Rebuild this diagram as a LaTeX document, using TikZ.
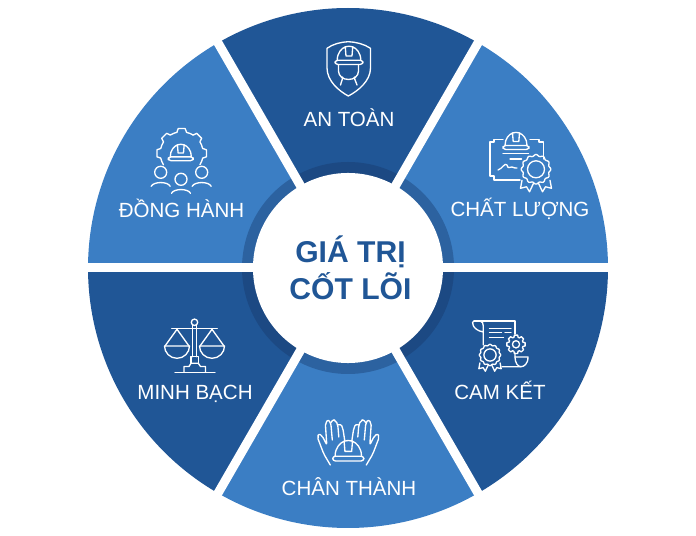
\documentclass[tikz,border=0pt]{standalone}
\usepackage{fontspec}
\setmainfont{Liberation Sans}
\usetikzlibrary{calc}
\definecolor{wedgedark}{RGB}{32,86,150}
\definecolor{wedgelight}{RGB}{59,126,196}
\definecolor{ringdark}{RGB}{28,73,131}
\definecolor{ringlight}{RGB}{44,98,160}
\tikzset{
	icon/.style={draw=white,line width=0.95pt,line join=round,line cap=round},
	valuetag/.style={text=white,font=\fontsize{14.6}{16}\selectfont,anchor=base,inner sep=0pt},
	coretext/.style={text=wedgedark,font=\fontsize{21.4}{24}\selectfont\bfseries,anchor=base,inner sep=0pt},
	helmet/.pic={
		\draw[icon] (-11,-4) .. controls (-11,-11) and (-7,-15) .. (-3.5,-16.5) -- (-2.8,-8) -- (2.8,-8) -- (3.5,-16.5) .. controls (7,-15) and (11,-11) .. (11,-4);
		\draw[icon] (-3.5,-16.5) .. controls (-1,-17.3) and (1,-17.3) .. (3.5,-16.5);
		\draw[icon,rounded corners=2] (-13,-4) rectangle (13,0);
	},
	medal/.pic={
		\draw[icon] plot[domain=0:360,samples=121] (\x:{14+0.8*cos(12*\x)}) -- cycle;
		\draw[icon] (0,0) circle (8.5);
		\draw[icon] (-14,11) -- (-15.5,19) -- (-9.5,17.5) -- (-6.5,22.5) -- (-2.5,14);
		\draw[icon] (2.5,14) -- (6.5,22.5) -- (9.5,17.5) -- (15.5,19) -- (14,11);
	}
}
\begin{document}
\begin{tikzpicture}[x=0.025cm,y=-0.025cm]
	\useasboundingbox (0,0) rectangle (696,536);
	\coordinate (cen) at (348,268);
	% wedges with their ring, clockwise from east
	\foreach \a/\wedgecol/\ringcol in {0/wedgedark/ringdark,60/wedgelight/ringlight,120/wedgedark/ringdark,180/wedgelight/ringlight,240/wedgedark/ringdark,300/wedgelight/ringlight}{
		\fill[\wedgecol] (cen) -- ($(cen)+(\a:260)$) arc[start angle=\a,delta angle=60,radius=260] -- cycle;
		\fill[\ringcol] (cen) -- ($(cen)+(\a:106)$) arc[start angle=\a,delta angle=60,radius=106] -- cycle;
	}
	\foreach \a in {0,60,120}
	\draw[white,line width=6.4pt] ($(cen)+(\a:272)$) -- ($(cen)+(\a+180:272)$);
	\node[circle,fill=white,inner sep=0pt,minimum size=4.75cm] (core) at (cen) {};
	\node[coretext] (giatri) at (350.5,263) {GIÁ TRỊ};
	\node[coretext] (cotloi) at (350.5,300) {CỐT LÕI};
	% labels
	\node[valuetag] (antoan) at (349,126.5) {AN TOÀN};
	\node[valuetag] (chatluong) at (520,217) {CHẤT LƯỢNG};
	\node[valuetag] (camket) at (500,400) {CAM KẾT};
	\node[valuetag] (chanthanh) at (349,495) {CHÂN THÀNH};
	\node[valuetag] (minhbach) at (195,400) {MINH BẠCH};
	\node[valuetag] (donghanh) at (181.5,218) {ĐỒNG HÀNH};
	% an toan: shield and worker
	\draw[icon] (348.3,41.7) .. controls (341,42) and (333,44) .. (327,48.3) -- (327,68) .. controls (327,81) and (339,91) .. (348.3,96) .. controls (358,91) and (370.5,81) .. (370.5,68) -- (370.5,48.3) .. controls (364,44) and (356,42) .. (348.3,41.7) -- cycle;
	\pic[scale=1.07] at (349,64.5) {helmet};
	\draw[icon] (338.5,64.5) -- (338.5,71) .. controls (338.5,76) and (343,79.5) .. (348.5,79.5) .. controls (354,79.5) and (358.5,76) .. (358.5,71) -- (358.5,64.5);
	\draw[icon] (342.5,77) .. controls (342.5,81) and (340.5,83) .. (340.5,85);
	\draw[icon] (354.5,77) .. controls (354.5,81) and (357,83) .. (357,85);
	% chat luong: certificate
	\draw[icon] (503,139.5) -- (494,139.5) -- (494,142) -- (490,142) -- (490,176) -- (494,176) -- (494,180) -- (520,180);
	\draw[icon] (530,139.5) -- (539,139.5) -- (539,142) -- (543.3,142) -- (543.3,159);
	\draw[icon] (503,153.3) -- (528.5,153.3);
	\draw[icon] (510,159) -- (521.5,159);
	\draw[icon] (498,170) .. controls (502,169) and (505,162) .. (507,165) .. controls (508,170) and (510,166) .. (512,167) .. controls (514,169) and (515,167) .. (517,168);
	\pic at (516,149.5) {helmet};
	\pic at (536,169.3) {medal};
	% cam ket: scroll
	\draw[icon] (483.3,345) -- (483.3,326) .. controls (483.3,320) and (479,321) .. (474,321) .. controls (471,321) and (472,330) .. (483.3,332);
	\draw[icon] (474,321) -- (515,321) -- (515,334);
	\draw[icon] (515,353) -- (515,357) -- (528,357) .. controls (528,364) and (524,366.7) .. (521,366.7) -- (502,366.7);
	\draw[icon] (515,357) .. controls (515,363) and (518,366.7) .. (521,366.7);
	\draw[icon] (489.5,328.5) -- (511,328.5);
	\draw[icon] (489.5,332.7) -- (501.5,332.7) (505,332.7) -- (511,332.7);
	\draw[icon] (489.5,337.3) -- (503.5,337.3);
	\pic[scale=0.72] at (490,355) {medal};
	\coordinate (gearb) at (516,344.3);
	\foreach \a in {0,45,...,315}
	\draw[icon] ($(gearb)+(\a-17:7.3)$) -- ($(gearb)+(\a-10:9.3)$) -- ($(gearb)+(\a+10:9.3)$) -- ($(gearb)+(\a+17:7.3)$) arc[start angle=\a+17,delta angle=11,radius=7.3];
	\draw[icon] (gearb) circle (3.6);
	% chan thanh: hands holding helmet
	\pic[scale=1.2] at (348.3,461) {helmet};
	\foreach \s in {1,-1}{
		\begin{scope}[shift={(348.3,0)},xscale=\s]
			\draw[icon,rounded corners=1.5] (-18,465) -- (-24.5,454) -- (-31,437) -- (-29.5,433.5) -- (-26,436) -- (-21.5,445) -- (-23,423) -- (-20,419.5) -- (-17.5,423) -- (-16,440);
			\draw[icon,rounded corners=1.5] (-17.5,423) -- (-15.5,419.5) -- (-12.5,420.5) -- (-10.5,425) -- (-9.5,437);
			\draw[icon,rounded corners=1.5] (-10.5,425) -- (-7.5,424) -- (-5.5,428) -- (-3.5,441);
		\end{scope}
	}
	% minh bach: scales
	\draw[icon] (194.5,322.3) circle (3.2);
	\draw[icon] (171.7,328.3) -- (217.3,328.3);
	\draw[icon] (192.5,325.5) -- (192.5,356.7) (196.5,325.5) -- (196.5,356.7);
	\draw[icon] (191,363.3) -- (191,356.7) -- (198.3,356.7) -- (198.3,363.3);
	\draw[icon] (175,372.3) -- (215,372.3);
	\draw[icon] (184,372) -- (184,366.5) -- (189,366.5) -- (191,363.3) -- (198.3,363.3) -- (200.5,366.5) -- (205.5,366.5) -- (205.5,372);
	\foreach \cx in {177,212}{
		\draw[icon] (\cx-12,346) -- (\cx,329.3) -- (\cx+12,346);
		\draw[icon] (\cx-12.5,346) -- (\cx+12.5,346) arc[start angle=0,delta angle=180,x radius=12.5,y radius=12.3];
	}
	% dong hanh: gear, helmet, three people
	\coordinate (geart) at (181.7,153.3);
	\foreach \a in {180,225,...,360}
	\draw[icon] ($(geart)+(\a-13:21.5)$) -- ($(geart)+(\a-8:25)$) -- ($(geart)+(\a+8:25)$) -- ($(geart)+(\a+13:21.5)$) arc[start angle=\a+13,delta angle=19,radius=21.5];
	\draw[icon] ($(geart)+(167:21.5)$) arc[start angle=167,delta angle=-19,radius=21.5];
	\pic[scale=0.96] at (180.8,160.7) {helmet};
	\foreach \px/\py in {160.7/172.3,181/179.3,201.7/172.3}{
		\draw[icon] (\px,\py) circle (6);
		\draw[icon] (\px-9.5,\py+14) .. controls (\px-7,\py+9) and (\px+7,\py+9) .. (\px+9.5,\py+14);
	}
\end{tikzpicture}
\end{document}
